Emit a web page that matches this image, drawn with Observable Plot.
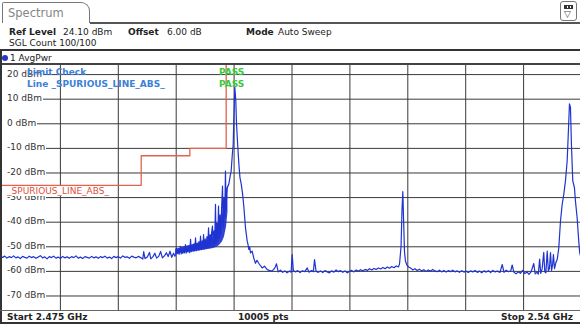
<!DOCTYPE html>
<html><head><meta charset="utf-8">
<script src="https://cdn.jsdelivr.net/npm/d3@7"></script>
<script src="https://cdn.jsdelivr.net/npm/@observablehq/plot@0.6"></script>
<style>
html,body{margin:0;padding:0;background:#fff;}
#wrap{position:relative;width:580px;height:324px;overflow:hidden;background:#fff;font-family:"DejaVu Sans",Verdana,sans-serif;font-size:9px;color:#222;}
.abs{position:absolute;white-space:nowrap;line-height:11px;}
.b{font-weight:bold;}
.ln{position:absolute;background:#333;}
</style></head><body><div id="wrap"></div>
<script>
// ---- axis / scale values ----
const startMHz = 2475, stopMHz = 2540;
const refLevel = 24.1, bottomLevel = -75.9;
const yTicks = [20, 10, 0, -10, -20, -30, -40, -50, -60, -70];
const xGrid = [2481.5, 2488, 2494.5, 2501, 2507.5, 2514, 2520.5, 2527, 2533.5];

// ---- header texts ----
const headerRow1 = [["Ref Level", true, 9], ["24.10 dBm", false, 63], ["Offset", true, 128], ["6.00 dB", false, 167], ["Mode", true, 246], ["Auto Sweep", false, 278]];
const headerRow2 = "SGL Count 100/100";
const footer = ["Start 2.475 GHz", "10005 pts", "Stop 2.54 GHz"];
const limitName = "_SPURIOUS_LINE_ABS_";

// ---- trace segments [MHz, dBm] ----
const floorLeft = [[2475.00,-54.3],[2475.25,-53.8],[2475.50,-54.6],[2475.75,-54.0],[2476.00,-54.4],[2476.25,-53.7],[2476.50,-54.5],[2476.75,-54.1],[2477.00,-54.8],[2477.25,-53.9],[2477.50,-54.3],[2477.75,-54.6],[2478.00,-53.8],[2478.25,-54.4],[2478.50,-54.0],[2478.75,-54.7],[2479.00,-54.2],[2479.25,-53.6],[2479.50,-54.5],[2479.75,-54.1],[2480.00,-54.9],[2480.25,-54.0],[2480.50,-54.4],[2480.75,-53.8],[2481.00,-54.6],[2481.25,-54.2],[2481.50,-54.8],[2481.75,-53.9],[2482.00,-54.5],[2482.25,-54.1],[2482.50,-54.7],[2482.75,-54.0],[2483.00,-54.4],[2483.25,-53.7],[2483.50,-54.6],[2483.75,-54.2],[2484.00,-54.8],[2484.25,-54.0],[2484.50,-54.3],[2484.75,-54.6],[2485.00,-53.9],[2485.25,-54.5],[2485.50,-54.1],[2485.75,-54.7],[2486.00,-54.0],[2486.25,-54.4],[2486.50,-53.8],[2486.75,-54.6],[2487.00,-54.2],[2487.25,-54.8],[2487.50,-53.9],[2487.75,-54.4],[2488.00,-54.0],[2488.25,-54.6],[2488.50,-53.7],[2488.75,-54.3],[2489.00,-54.1],[2489.25,-54.7],[2489.50,-53.8],[2489.75,-54.2],[2490.00,-54.5],[2490.25,-53.9],[2490.50,-54.4],[2490.75,-55.0],[2490.85,-52.0],[2491.00,-54.8],[2491.25,-54.2],[2491.50,-52.3],[2491.65,-54.9],[2491.90,-54.0],[2492.10,-52.6],[2492.30,-54.6],[2492.55,-53.8],[2492.75,-51.9],[2492.95,-54.5],[2493.20,-53.6],[2493.40,-52.4],[2493.60,-54.0],[2493.80,-51.8],[2494.00,-54.3],[2494.20,-52.6],[2494.35,-53.8]];

const skirtSpikes = [[2494.45,-53.0],[2494.53,-50.5],[2494.62,-52.8],[2494.72,-51.2],[2494.82,-53.1],[2494.90,-51.6],[2494.98,-49.8],[2495.06,-52.9],[2495.15,-51.0],[2495.24,-52.7],[2495.33,-50.6],[2495.42,-52.5],[2495.54,-49.1],[2495.62,-52.6],[2495.72,-50.4],[2495.82,-52.2],[2495.92,-49.8],[2496.02,-52.4],[2496.11,-47.0],[2496.20,-52.0],[2496.30,-49.5],[2496.40,-51.9],[2496.50,-48.8],[2496.58,-51.7],[2496.67,-46.4],[2496.76,-51.6],[2496.86,-48.5],[2496.96,-51.5],[2497.05,-47.9],[2497.14,-51.3],[2497.23,-45.7],[2497.32,-51.2],[2497.42,-47.6],[2497.50,-51.0],[2497.57,-45.0],[2497.66,-50.9],[2497.76,-46.8],[2497.86,-50.6],[2497.95,-45.9],[2498.04,-50.5],[2498.13,-42.3],[2498.22,-50.2],[2498.32,-45.0],[2498.40,-50.0],[2498.48,-44.2],[2498.57,-41.6],[2498.65,-49.6],[2498.74,-43.5],[2498.82,-49.2],[2498.91,-32.8],[2498.98,-48.8],[2499.07,-40.5],[2499.16,-47.9],[2499.25,-33.5],[2499.33,-46.5],[2499.42,-37.0],[2499.50,-45.0],[2499.60,-34.0],[2499.70,-25.3],[2499.78,-42.0],[2499.87,-30.0],[2499.95,-38.0],[2500.03,-19.2],[2500.10,-35.0],[2500.17,-28.0]];

const skirtEnvFreq = [2494.45,2495.21,2495.88,2496.55,2497.23,2497.90,2498.57,2499.02,2499.36,2499.70,2499.92,2500.15,2500.31];
const skirtEnvLow  = [-53.0,-52.5,-52.2,-51.9,-51.5,-51.2,-50.8,-50.3,-49.5,-48.0,-46.0,-42.0,-36.0];
const skirtEnvHigh = [-51.0,-50.3,-49.6,-49.0,-48.5,-47.8,-46.5,-44.5,-41.5,-37.0,-32.0,-27.0,-25.0];

const mainPeak = [[2500.23,-26.0],[2500.40,-24.6],[2500.60,-20.5],[2500.67,-19.2],[2500.79,-13.0],[2500.90,-8.3],[2500.97,2.0],[2501.02,8.0],[2501.08,14.8],[2501.19,9.4],[2501.27,0.0],[2501.41,-9.0],[2501.55,-17.1],[2501.66,-21.9],[2501.80,-24.5],[2501.94,-28.1],[2502.09,-33.5],[2502.28,-42.3],[2502.47,-47.7],[2502.56,-49.0],[2502.65,-51.1],[2502.75,-50.0],[2502.84,-52.5],[2503.03,-51.8],[2503.21,-54.6],[2503.40,-56.7],[2503.57,-55.5],[2503.74,-56.6],[2503.96,-57.7],[2504.15,-58.6],[2504.41,-57.9],[2504.72,-59.3]];

const floorMid = [[2504.95,-59.6],[2505.20,-59.9],[2505.45,-59.2],[2505.62,-58.2],[2505.76,-56.9],[2505.95,-60.2],[2506.20,-59.5],[2506.45,-60.4],[2506.70,-59.8],[2506.95,-60.6],[2507.20,-59.9],[2507.40,-60.3],[2507.52,-53.2],[2507.65,-59.6],[2507.90,-60.2],[2508.15,-59.7],[2508.40,-60.5],[2508.65,-59.8],[2508.95,-60.1],[2509.21,-58.6],[2509.40,-60.3],[2509.70,-59.7],[2509.90,-60.1],[2510.03,-55.2],[2510.20,-59.9],[2510.45,-60.4],[2510.70,-59.8],[2510.95,-60.5],[2511.20,-59.7],[2511.45,-60.2],[2511.70,-60.6],[2511.95,-59.8],[2512.20,-60.3],[2512.45,-59.4],[2512.70,-60.1],[2512.95,-59.7],[2513.20,-60.4],[2513.45,-59.8],[2513.70,-60.6],[2513.95,-60.0],[2514.20,-59.6],[2514.45,-60.2],[2514.70,-59.4],[2514.95,-59.9],[2515.20,-59.3],[2515.45,-59.8],[2515.70,-59.2],[2515.95,-59.6],[2516.20,-58.9],[2516.45,-59.4],[2516.70,-58.8],[2516.95,-59.2],[2517.20,-58.6],[2517.45,-59.0],[2517.70,-58.4],[2517.95,-58.9],[2518.20,-58.2],[2518.45,-58.7],[2518.70,-58.0],[2518.95,-58.5],[2519.20,-57.8],[2519.45,-58.2]];

const spur = [[2519.57,-57.0],[2519.74,-50.0],[2519.85,-35.0],[2519.94,-27.6],[2520.02,-38.0],[2520.13,-52.0],[2520.24,-55.9],[2520.41,-57.5],[2520.60,-58.2]];

const floorRight = [[2520.80,-58.6],[2521.05,-59.4],[2521.30,-58.9],[2521.55,-59.6],[2521.80,-59.1],[2522.05,-59.8],[2522.30,-59.3],[2522.55,-60.0],[2522.80,-59.4],[2523.05,-59.9],[2523.30,-59.2],[2523.55,-59.8],[2523.80,-60.1],[2524.05,-59.5],[2524.30,-60.2],[2524.55,-59.6],[2524.80,-60.3],[2525.05,-59.7],[2525.30,-60.1],[2525.55,-59.5],[2525.80,-60.2],[2526.05,-59.8],[2526.30,-60.4],[2526.55,-59.7],[2526.80,-60.3],[2527.05,-59.9],[2527.30,-60.5],[2527.55,-59.8],[2527.80,-60.2],[2528.05,-59.6],[2528.30,-60.4],[2528.55,-59.9],[2528.80,-60.6],[2529.05,-59.8],[2529.30,-60.3],[2529.55,-59.7],[2529.80,-60.5],[2530.05,-59.6],[2530.30,-60.2],[2530.55,-59.9],[2530.85,-60.4],[2531.10,-57.2],[2531.30,-60.4],[2531.55,-59.5],[2531.80,-60.1],[2532.05,-59.9],[2532.22,-57.4],[2532.40,-60.3],[2532.65,-61.0],[2532.90,-60.2],[2533.15,-60.8],[2533.40,-59.6],[2533.65,-60.9],[2533.90,-60.3],[2534.10,-61.2],[2534.35,-60.1],[2534.64,-56.8],[2534.80,-61.0],[2535.00,-60.4]];

const rightPeak = [[2535.15,-61.1],[2535.30,-55.0],[2535.42,-60.8],[2535.58,-59.0],[2535.76,-52.3],[2535.88,-60.2],[2536.00,-60.6],[2536.15,-51.8],[2536.28,-59.8],[2536.40,-58.8],[2536.52,-52.4],[2536.64,-59.6],[2536.75,-57.5],[2536.85,-53.2],[2536.97,-58.9],[2537.12,-56.5],[2537.27,-55.2],[2537.45,-50.5],[2537.64,-39.6],[2537.83,-32.8],[2538.01,-28.7],[2538.20,-23.2],[2538.39,-15.1],[2538.50,-5.6],[2538.65,8.1],[2538.76,6.7],[2538.87,-8.3],[2539.02,-23.2],[2539.21,-26.0],[2539.32,-31.4],[2539.51,-38.2],[2539.69,-47.7],[2539.80,-52.5],[2540.00,-55.0]];

// ---- limit line [MHz, dBm] ----
const limitLine = [[2475,-25],[2490.57,-25],[2490.57,-13],[2496.03,-13],[2496.03,-10],[2500.11,-10],[2500.11,40]];

// ---- build ----
const wrap = document.getElementById("wrap");
function add(html, cls, style) {
  const d = document.createElement("div");
  d.className = cls; d.innerHTML = html;
  Object.assign(d.style, style);
  wrap.appendChild(d); return d;
}

const trace = [...floorLeft, ...skirtSpikes, ...mainPeak, ...floorMid, ...spur, ...floorRight, ...rightPeak].map(([f, v]) => ({f, v}));
const env = skirtEnvFreq.map((f, i) => ({f, lo: skirtEnvLow[i], hi: skirtEnvHigh[i]}));
const limit = limitLine.map(([f, v]) => ({f, v}));

const PLOT_LEFT = 2, PLOT_TOP = 64;
const plot = Plot.plot({
  width: 579, height: 246, margin: 0,
  x: {domain: [startMHz, stopMHz], axis: null},
  y: {domain: [bottomLevel, refLevel], axis: null},
  style: {background: "transparent"},
  marks: [
    Plot.ruleY(yTicks, {stroke: "#3a3a3a", strokeWidth: 1}),
    Plot.ruleX(xGrid, {stroke: "#3a3a3a", strokeWidth: 1}),
    Plot.line(limit, {x: "f", y: "v", stroke: "#e2624e", strokeWidth: 1.3, clip: true}),
    Plot.areaY(env, {x: "f", y1: "lo", y2: "hi", fill: "#1a2fd0", fillOpacity: 0.9, curve: "linear"}),
    Plot.line(trace, {x: "f", y: "v", stroke: "#1f33d2", strokeWidth: 1.2, clip: true})
  ]
});
plot.style.position = "absolute";
plot.style.left = PLOT_LEFT + "px";
plot.style.top = PLOT_TOP + "px";
plot.style.maxWidth = "none";
wrap.appendChild(plot);
const ys = plot.scale("y");

// frame lines
add("", "ln", {left: "0px", top: "49px", width: "580px", height: "2px"});
add("", "ln", {left: "0px", top: "63px", width: "580px", height: "1.5px", background: "#444"});
add("", "ln", {left: "0px", top: "50px", width: "2px", height: "274px"});
add("", "ln", {left: "0px", top: "309.5px", width: "580px", height: "1px", background: "#666"});
add("", "ln", {left: "0px", top: "322px", width: "580px", height: "2px"});
add("", "ln", {left: "90px", top: "22px", width: "490px", height: "1.5px", background: "#555"});

// tab
add("Spectrum", "abs", {left: "2px", top: "2px", width: "82px", height: "21px", border: "1.5px solid #777", borderBottom: "none",
  borderTopRightRadius: "9px", borderTopLeftRadius: "2px", fontSize: "11.5px", color: "#858585", lineHeight: "14px", paddingLeft: "5px", paddingTop: "3px", boxSizing: "border-box", width: "88px"});
// icon
const ic = add("", "abs", {left: "560px", top: "1px", width: "17px", height: "20px", border: "1px solid #777", borderRadius: "3px", boxSizing: "border-box"});
ic.innerHTML = '<div style="position:absolute;left:3px;top:3px;width:9px;height:4px;background:#333;border:1px solid #333;box-sizing:border-box;background-image:linear-gradient(90deg,#333 0 2px,#fff 2px 3px,#333 3px 5px,#fff 5px 6px,#333 6px)"></div><div style="position:absolute;left:3px;top:7px;font-size:9px;line-height:10px;color:#444">&#9661;</div>';

// header rows
headerRow1.forEach(([t, bold, x]) => add(t, "abs" + (bold ? " b" : ""), {left: x + "px", top: "27px"}));
add(headerRow2, "abs", {left: "9px", top: "38px"});

// trace label
add("", "abs", {left: "2px", top: "55px", width: "6px", height: "6px", borderRadius: "50%", background: "#2438c8"});
add("1 AvgPwr", "abs", {left: "10px", top: "52.5px"});

// y tick labels through the y scale
yTicks.forEach(t => {
  const y = PLOT_TOP + ys.apply(t);
  add(`${t} dBm`, "abs", {left: "2px", top: (y - 5.5) + "px", paddingLeft: "5px", paddingRight: "1px", background: "#fff", color: "#333", lineHeight: "11px"});
});

// limit line name label
add(limitName, "abs", {left: "3px", top: "185.5px", paddingLeft: "4px", paddingRight: "2px", background: "#fff", color: "#e0503c", lineHeight: "10px"});

// limit check texts
add("Limit Check", "abs b", {left: "27px", top: "66.5px", color: "#3d80d8"});
add("Line " + limitName, "abs b", {left: "27px", top: "78.5px", color: "#3d80d8"});
add("PASS", "abs b", {left: "219px", top: "66.5px", color: "#3cc83c"});
add("PASS", "abs b", {left: "219px", top: "78.5px", color: "#3cc83c"});

// footer
add(footer[0], "abs b", {left: "7px", top: "311.5px"});
add(footer[1], "abs b", {left: "238px", top: "311.5px"});
add(footer[2], "abs b", {right: "7px", top: "311.5px"});
</script></body></html>
